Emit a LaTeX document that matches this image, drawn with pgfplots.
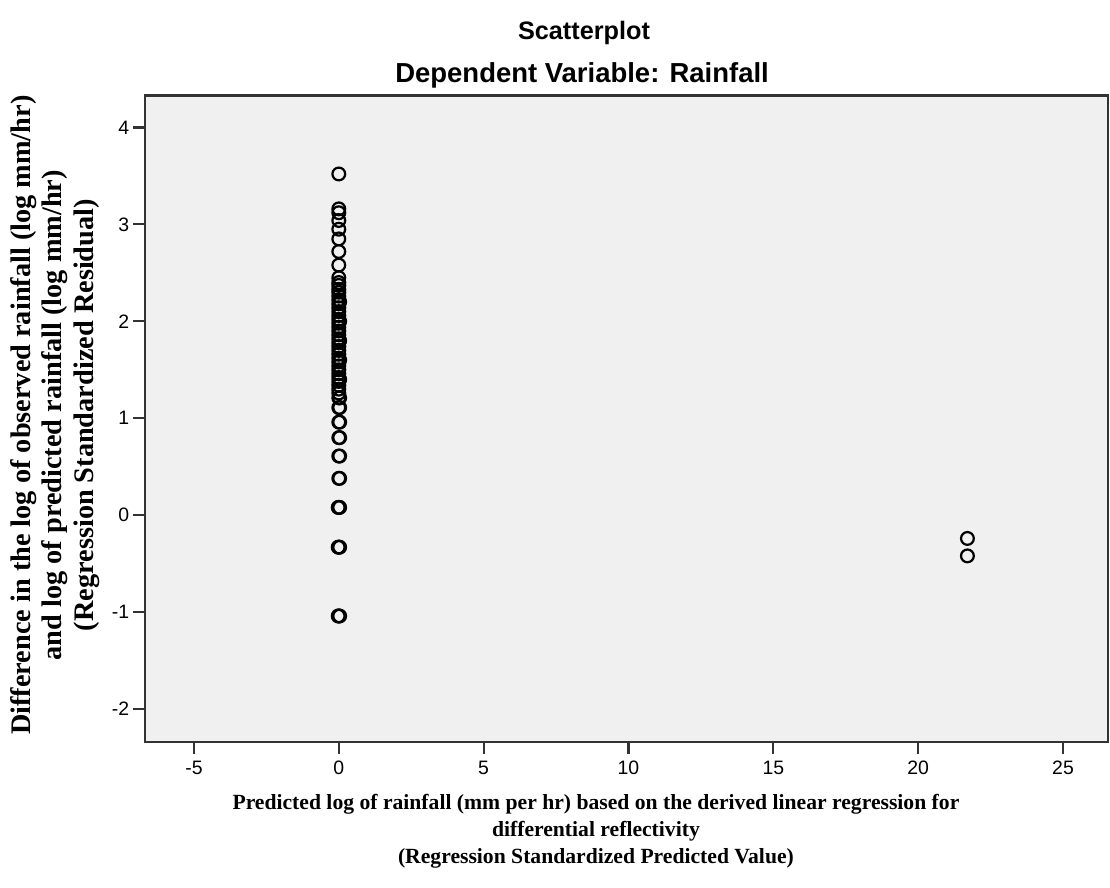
\documentclass[border=0pt]{standalone}
\usepackage{pgfplots}
\pgfplotsset{compat=1.18}
\usepackage{fontspec}
\setmainfont{Liberation Serif}
\newfontfamily\arial{Liberation Sans}
\definecolor{plotbg}{HTML}{F0F0F0}
\definecolor{frame}{HTML}{333333}

\begin{document}
\begin{tikzpicture}
\path[use as bounding box] (-52.25pt,-52.6pt) rectangle (347.75pt,267.4pt);
\begin{axis}[
    scale only axis,
    width=347pt, height=233pt,
    xmin=-6.69, xmax=26.55,
    ymin=-2.34, ymax=4.33,
    xtick={-5,0,5,10,15,20,25},
    ytick={-2,-1,0,1,2,3,4},
    tick align=outside,
    major tick length=4.2pt,
    tick style={frame, line width=0.8pt},
    xtick pos=bottom, ytick pos=left,
    axis background/.style={fill=plotbg},
    axis line style={frame, line width=0.9pt},
    tick label style={font=\arial\fontsize{7}{8}\selectfont},
    xticklabel style={yshift=1pt},
    yticklabel style={xshift=2pt},
    /pgf/number format/assume math mode=true,
    clip=false,
]
\addplot[only marks, mark=o, mark size=2.3pt, mark options={black, line width=0.8pt}] coordinates {
    (0,3.52) (0,3.16) (0,3.12) (0,3.04) (0,2.95) (0,2.85) (0,2.72) (0,2.58)
    (0,2.45) (0,2.40) (0,2.37) (0,2.33) (0,2.30) (0,2.26) (0,2.22) (0,2.18)
    (0,2.14) (0,2.10) (0,2.06) (0,2.02) (0,1.98) (0,1.94) (0,1.90) (0,1.86)
    (0,1.82) (0,1.78) (0,1.74) (0,1.70) (0,1.66) (0,1.62) (0,1.58) (0,1.54)
    (0,1.50) (0,1.46) (0,1.42) (0,1.38) (0,1.34) (0,1.30) (0,1.26) (0,1.21)
    (0,1.11) (0,0.96) (0,0.80) (0,0.61) (0,0.38) (0,0.08) (0,-0.33) (0,-1.04)
    (0.03,1.40) (0.03,1.60) (0.03,1.80) (0.03,2.00) (0.03,2.20)
    (0.03,1.21) (0.03,1.11) (0.03,0.96) (0.03,0.80) (0.03,0.61) (0.03,0.38)
    (0.03,0.08) (0.03,-0.33) (0.03,-1.04)
    (-0.02,0.08) (-0.02,-0.33) (-0.02,-1.04)
    (21.7,-0.24) (21.7,-0.42)
};
\end{axis}
\node[font=\arial\bfseries\fontsize{9.1}{11}\selectfont] at (158.2pt,255.6pt) {Scatterplot};
\node[font=\arial\bfseries\fontsize{9.9}{11}\selectfont] at (157.5pt,240.4pt) {Dependent Variable: Rainfall};
\node[font=\bfseries\fontsize{10.2}{11.2}\selectfont, rotate=90, align=center] at (-32.4pt,117.8pt)
    {Difference in the log of observed rainfall (log mm/hr)\\and log of predicted rainfall (log mm/hr)\\(Regression Standardized Residual)};
\node[font=\bfseries\fontsize{7.8}{9.7}\selectfont, align=center] at (162.5pt,-32.2pt)
    {Predicted log of rainfall (mm per hr) based on the derived linear regression for\\differential reflectivity\\(Regression Standardized Predicted Value)};
\end{tikzpicture}
\end{document}
